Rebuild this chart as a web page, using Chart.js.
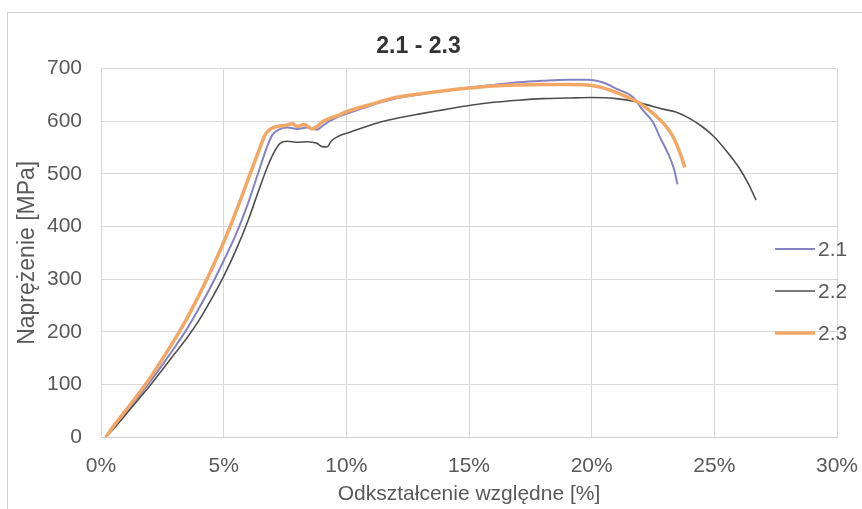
<!DOCTYPE html>
<html>
<head>
<meta charset="utf-8">
<script src="https://cdn.jsdelivr.net/npm/chart.js@4.4.0/dist/chart.umd.min.js"></script>
<style>
  html, body { margin: 0; padding: 0; background: #ffffff; }
  #c { display: block; }
</style>
</head>
<body>
<canvas id="c" width="862" height="509"></canvas>
<script>
// ---- data (strain in %, stress in MPa) ----
const seriesNames = ["2.1", "2.2", "2.3"];
const xTicks = [0, 5, 10, 15, 20, 25, 30];
const yTicks = [0, 100, 200, 300, 400, 500, 600, 700];

const strain21 = [0.2,0.5,1.0,1.5,2.0,2.5,3.0,3.5,4.0,4.5,5.0,5.5,6.0,6.5,6.8,7.0,7.3,7.6,8.0,8.4,8.8,9.0,9.3,9.6,10,11,12,13,14,15,16,17,18,19,19.8,20.2,20.5,21.0,21.7,22.1,22.5,22.8,23.1,23.35,23.5];
const stress21 = [0,18,46,75,105,137,170,205,245,288,335,385,445,515,555,575,585,588,585,588,584,590,600,607,614,630,643,651,658,664,669,674,677,679,679,677,673,662,645,620,598,568,540,510,480];

const strain22 = [0.2,0.5,1.0,1.5,2.0,2.5,3.0,3.5,4.0,4.5,5.0,5.5,6.0,6.5,6.8,7.1,7.3,7.6,8.0,8.4,8.8,9.0,9.2,9.4,9.7,10.2,11.3,12.2,13,14,15,16,17,18,19,20,21,21.8,22.5,23.0,23.4,24.0,24.5,25.0,25.5,26.0,26.4,26.7];
const stress22 = [0,15,42,70,98,128,158,188,222,262,305,355,412,478,515,545,558,562,560,561,558,552,551,563,572,580,597,607,614,622,630,636,640,643,644,645,643,637,628,622,618,605,590,570,543,512,480,450];

const strain23 = [0.2,0.5,1.0,1.5,2.0,2.5,3.0,3.5,4.0,4.5,5.0,5.5,6.0,6.4,6.7,6.9,7.2,7.5,7.8,8.0,8.3,8.6,8.8,9.0,9.3,9.6,10,11,12,13,14,15,16,17,18,19,20,20.5,21,21.5,22,22.5,23,23.3,23.6,23.8];
const stress23 = [0,20,50,80,112,148,185,225,270,318,370,428,490,540,575,585,590,592,595,590,594,585,590,598,605,610,618,632,645,652,658,663,667,669,670,670,668,663,655,645,633,615,592,572,540,512];

const colors = ["#8282C4", "#4F4F4F", "#F2A766"];
const widths = [2, 1.6, 3.5];

function pts(xs, ys) { return xs.map((x, i) => ({ x: x, y: ys[i] })); }
const strains = [strain21, strain22, strain23];
const stresses = [stress21, stress22, stress23];

const FONT = "'Liberation Sans', Arial, sans-serif";
const TEXT = "#595959";

const framePlugin = {
  id: 'frame',
  beforeDraw(chart) {
    const ctx = chart.ctx;
    ctx.save();
    ctx.fillStyle = '#ffffff';
    ctx.fillRect(0, 0, chart.width, chart.height);
    ctx.strokeStyle = '#CFCFCF';
    ctx.lineWidth = 1;
    ctx.beginPath();
    ctx.moveTo(7.5, chart.height);
    ctx.lineTo(7.5, 12.5);
    ctx.lineTo(chart.width, 12.5);
    ctx.stroke();
    ctx.restore();
  }
};

const legendPlugin = {
  id: 'sideLegend',
  afterDraw(chart) {
    const ctx = chart.ctx;
    const ys = [249, 291, 333];
    ctx.save();
    ctx.font = "21px " + FONT;
    ctx.textAlign = 'left';
    ctx.textBaseline = 'middle';
    seriesNames.forEach((name, i) => {
      ctx.strokeStyle = colors[i];
      ctx.lineWidth = widths[i];
      ctx.beginPath();
      ctx.moveTo(775, ys[i]);
      ctx.lineTo(815, ys[i]);
      ctx.stroke();
      ctx.fillStyle = TEXT;
      ctx.fillText(name, 818, ys[i] + 1);
    });
    ctx.restore();
  }
};

new Chart(document.getElementById('c'), {
  type: 'line',
  data: {
    datasets: seriesNames.map((name, i) => ({
      label: name,
      data: pts(strains[i], stresses[i]),
      borderColor: colors[i],
      backgroundColor: colors[i],
      borderWidth: widths[i],
      pointRadius: 0,
      cubicInterpolationMode: 'monotone',
      fill: false,
      order: 3 - i
    }))
  },
  options: {
    responsive: false,
    animation: false,
    devicePixelRatio: 1,
    layout: { padding: { left: 0, right: 25, top: 0, bottom: 0 } },
    plugins: {
      legend: { display: false },
      tooltip: { enabled: false },
      title: {
        display: true,
        text: '2.1 - 2.3',
        color: '#333333',
        font: { family: FONT, size: 23, weight: 'bold', lineHeight: 1.2 },
        padding: { top: 33, bottom: 8 }
      }
    },
    scales: {
      x: {
        type: 'linear',
        min: 0, max: 30,
        afterBuildTicks(scale) { scale.ticks = xTicks.map(v => ({ value: v })); },
        afterFit(scale) { scale.height = 72; scale.paddingLeft = 0; scale.paddingRight = 0; },
        ticks: {
          color: TEXT,
          padding: 17,
          maxRotation: 0,
          font: { family: FONT, size: 21, lineHeight: 1.2 },
          callback: v => v + '%'
        },
        grid: { color: '#D9D9D9', lineWidth: 1, drawTicks: false },
        border: { display: true, color: '#D0D0D0' },
        title: {
          display: true,
          text: 'Odkształcenie względne [%]',
          color: TEXT,
          font: { family: FONT, size: 21, lineHeight: 1.2 },
          padding: { top: 0, bottom: 2 }
        }
      },
      y: {
        type: 'linear',
        min: 0, max: 700,
        afterBuildTicks(scale) { scale.ticks = yTicks.map(v => ({ value: v })); },
        afterFit(scale) { scale.width = 101; scale.paddingTop = 0; scale.paddingBottom = 0; },
        ticks: {
          color: TEXT,
          padding: 19,
          font: { family: FONT, size: 21, lineHeight: 1.2 }
        },
        grid: { color: '#D9D9D9', lineWidth: 1, drawTicks: false },
        border: { display: false },
        title: {
          display: true,
          text: 'Naprężenie [MPa]',
          color: TEXT,
          font: { family: FONT, size: 23, lineHeight: 1.2 },
          padding: { top: 14, bottom: 0 }
        }
      }
    }
  },
  plugins: [framePlugin, legendPlugin]
});
</script>
</body>
</html>
